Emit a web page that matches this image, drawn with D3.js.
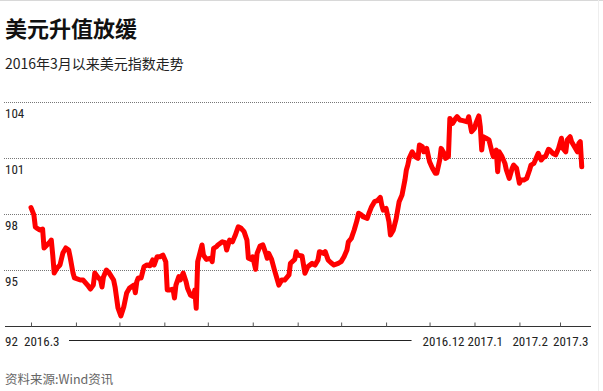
<!DOCTYPE html>
<html><head><meta charset="utf-8">
<script src="https://cdn.jsdelivr.net/npm/d3@7"></script>
<style>
html,body{margin:0;padding:0;background:#fff;}
svg{display:block;}
</style></head>
<body>
<svg id="chart" width="603" height="391"></svg>
<script>
const title = "美元升值放缓";
const subtitle = "2016年3月以来美元指数走势";
const source = "资料来源:Wind资讯";

const dates = [
"2016-03-01","2016-03-03","2016-03-04","2016-03-05","2016-03-07","2016-03-09","2016-03-10","2016-03-12","2016-03-14","2016-03-15",
"2016-03-16","2016-03-17","2016-03-19","2016-03-21","2016-03-23","2016-03-25","2016-03-27","2016-03-28","2016-03-30","2016-03-31",
"2016-04-04","2016-04-06","2016-04-09","2016-04-11","2016-04-13","2016-04-14","2016-04-16","2016-04-18","2016-04-19","2016-04-20",
"2016-04-22","2016-04-24","2016-04-27","2016-04-28","2016-04-30","2016-05-02","2016-05-04","2016-05-06","2016-05-08","2016-05-11",
"2016-05-12","2016-05-13","2016-05-14","2016-05-16","2016-05-18","2016-05-20","2016-05-22","2016-05-24","2016-05-25","2016-05-27",
"2016-05-29","2016-05-31","2016-06-02","2016-06-03","2016-06-05","2016-06-07","2016-06-08","2016-06-09","2016-06-11","2016-06-12",
"2016-06-14","2016-06-16","2016-06-17","2016-06-19","2016-06-21","2016-06-22","2016-06-23","2016-06-24","2016-06-27","2016-06-28",
"2016-06-30","2016-07-03","2016-07-04","2016-07-05","2016-07-07","2016-07-08","2016-07-11","2016-07-13","2016-07-14","2016-07-16",
"2016-07-18","2016-07-19","2016-07-20","2016-07-22","2016-07-24","2016-07-26","2016-07-28","2016-07-29","2016-07-31","2016-08-01",
"2016-08-03","2016-08-04","2016-08-06","2016-08-08","2016-08-10","2016-08-11","2016-08-12","2016-08-14","2016-08-16","2016-08-18",
"2016-08-19","2016-08-21","2016-08-23","2016-08-26","2016-08-27","2016-08-30","2016-08-31","2016-09-01","2016-09-04","2016-09-06",
"2016-09-08","2016-09-11","2016-09-13","2016-09-15","2016-09-16","2016-09-19","2016-09-20","2016-09-22","2016-09-24","2016-09-26",
"2016-09-29","2016-10-01","2016-10-03","2016-10-05","2016-10-06","2016-10-08","2016-10-10","2016-10-12","2016-10-13","2016-10-15",
"2016-10-16","2016-10-19","2016-10-20","2016-10-22","2016-10-24","2016-10-26","2016-10-28","2016-10-29","2016-10-30","2016-11-01",
"2016-11-03","2016-11-04","2016-11-06","2016-11-08","2016-11-10","2016-11-12","2016-11-14","2016-11-15","2016-11-16","2016-11-17",
"2016-11-19","2016-11-21","2016-11-23","2016-11-24","2016-11-26","2016-11-27","2016-11-29","2016-12-01","2016-12-03","2016-12-05",
"2016-12-06","2016-12-08","2016-12-09","2016-12-11","2016-12-12","2016-12-14","2016-12-15","2016-12-17","2016-12-19","2016-12-20",
"2016-12-22","2016-12-24","2016-12-27","2016-12-28","2016-12-30","2017-01-01","2017-01-02","2017-01-04","2017-01-05","2017-01-06",
"2017-01-07","2017-01-09","2017-01-11","2017-01-13","2017-01-14","2017-01-16","2017-01-17","2017-01-18","2017-01-20","2017-01-22",
"2017-01-23","2017-01-25","2017-01-27","2017-01-28","2017-01-30","2017-02-01","2017-02-02","2017-02-04","2017-02-06","2017-02-08",
"2017-02-09","2017-02-11","2017-02-12","2017-02-14","2017-02-16","2017-02-18","2017-02-19","2017-02-21","2017-02-22","2017-02-24",
"2017-02-26","2017-02-27","2017-02-28","2017-03-02","2017-03-03","2017-03-05","2017-03-06","2017-03-08","2017-03-09","2017-03-11",
"2017-03-13","2017-03-14","2017-03-15","2017-03-16"
];

const values = [
98.35,97.96,97.32,97.26,97.16,97.21,96.20,96.36,96.52,96.62,
95.82,94.86,95.13,95.29,95.93,96.20,96.09,95.72,94.86,94.60,
94.49,94.49,94.22,94.01,94.22,94.86,94.65,94.49,94.12,94.65,
95.02,94.86,94.49,94.12,93.00,92.57,93.05,93.80,94.06,94.22,
93.81,94.40,94.60,94.60,95.20,95.29,95.25,95.56,95.29,95.73,
95.73,95.82,95.47,93.96,93.96,94.01,93.53,94.22,94.67,94.49,
94.86,94.40,94.05,93.69,93.60,93.96,92.98,95.47,96.36,95.82,
95.59,95.65,95.47,96.18,96.27,96.36,96.53,96.48,96.09,96.62,
96.53,96.71,96.89,97.33,97.25,97.07,96.62,95.65,95.59,95.73,
95.06,95.91,96.30,96.36,95.91,95.65,95.91,95.59,95.02,94.49,
94.22,94.49,94.49,94.76,95.38,95.59,96.00,95.82,95.77,94.85,
95.20,95.38,95.29,95.56,96.00,95.91,96.00,95.56,95.41,95.29,
95.38,95.47,95.73,96.09,96.53,96.71,97.16,97.69,98.05,97.96,
97.87,97.78,98.01,98.40,98.67,98.72,98.90,98.49,98.22,98.31,
97.60,96.89,97.16,97.78,98.67,99.02,99.82,100.36,100.62,101.00,
101.33,101.07,100.98,101.69,101.60,101.33,101.51,100.80,100.45,100.18,
100.18,100.89,101.51,101.25,100.98,101.07,103.11,102.85,103.11,103.20,
103.02,102.99,102.93,103.20,102.40,102.58,102.85,103.24,102.67,101.42,
102.13,102.05,101.96,101.33,101.07,101.42,100.27,101.33,101.07,100.71,
100.36,99.91,100.45,100.62,100.45,99.65,99.82,99.82,99.91,100.36,
100.62,100.71,100.89,101.25,100.89,101.07,101.07,101.46,101.42,101.25,
101.16,101.33,101.51,102.05,101.51,101.33,101.96,102.13,101.87,101.60,
101.33,101.78,101.87,100.53
];

const yTicks = [92, 95, 98, 101, 104];
const xLabelDates = ["2016-03-01", "2016-12-01", "2017-01-01", "2017-02-01", "2017-03-01"];
const xLabels = ["2016.3", "2016.12", "2017.1", "2017.2", "2017.3"];

const parse = d3.timeParse("%Y-%m-%d");
const data = dates.map((d, i) => ({ date: parse(d), value: values[i] }));

const svg = d3.select("#chart");
const W = 603, H = 391;
svg.append("rect").attr("width", W).attr("height", H).attr("fill", "#fff");

const x = d3.scaleTime()
  .domain([parse("2016-03-01"), parse("2017-03-01")])
  .range([31, 560]);
const y = d3.scaleLinear().domain([92, 104]).range([326.7, 101.7]);

const numFont = "'Liberation Sans Narrow','Roboto Condensed','Noto Sans CJK SC',sans-serif";
const cjkFont = "'Noto Sans CJK SC','Noto Sans',sans-serif";

// top rule
svg.append("line").attr("x1", 0).attr("x2", W).attr("y1", 0.5).attr("y2", 0.5)
  .attr("stroke", "#d8d8d8").attr("stroke-width", 1);

// Title & subtitle
svg.append("text").attr("x", 5).attr("y", 37).text(title)
  .attr("font-family", cjkFont).attr("font-weight", "bold").attr("font-size", 22).attr("fill", "#111");
svg.append("text").attr("x", 5).attr("y", 69).text(subtitle)
  .attr("font-family", cjkFont).attr("font-size", 14).attr("fill", "#222");

// gridlines
const grid = svg.append("g");
grid.selectAll("line").data(yTicks.filter(t => t !== 92)).join("line")
  .attr("x1", 4).attr("x2", 591)
  .attr("y1", d => Math.round(y(d)) + 0.5).attr("y2", d => Math.round(y(d)) + 0.5)
  .attr("stroke", "#777").attr("stroke-width", 1).attr("stroke-dasharray", "1,1");

// y labels (below gridlines)
svg.append("g").selectAll("text").data(yTicks).join("text")
  .attr("x", 5).attr("y", d => d === 92 ? 346 : y(d) + 16)
  .text(d => d)
  .attr("font-family", numFont).attr("font-size", 13).attr("fill", "#222");

// x axis
const months = d3.timeMonth.range(parse("2016-03-01"), d3.timeDay.offset(parse("2017-03-01"), 1));
const axis = d3.axisBottom(x).tickValues(months).tickSize(-4).tickFormat("");
const ax = svg.append("g").attr("transform", "translate(0,326.5)").call(axis);
ax.select(".domain").attr("d", "M5,0H591").attr("stroke", "#333").attr("stroke-width", 1.2);
ax.selectAll(".tick line").attr("stroke", "#555");

// x labels
svg.append("g").selectAll("text").data(xLabels).join("text")
  .attr("x", (d, i) => x(parse(xLabelDates[i])) - 7)
  .attr("y", 346)
  .text(d => d)
  .attr("font-family", numFont).attr("font-size", 13).attr("fill", "#222");

// connector line between 2016.3 and 2016.12
svg.append("line")
  .attr("x1", x(parse("2016-03-01")) + 38).attr("x2", x(parse("2016-12-01")) - 18)
  .attr("y1", 340.5).attr("y2", 340.5).attr("stroke", "#222").attr("stroke-width", 1);

// line
const line = d3.line().x(d => x(d.date)).y(d => y(d.value));
svg.append("path").datum(data).attr("d", line)
  .attr("fill", "none").attr("stroke", "#ff0000").attr("stroke-width", 5)
  .attr("stroke-linejoin", "round").attr("stroke-linecap", "round");

// source
svg.append("text").attr("x", 5).attr("y", 384).text(source)
  .attr("font-family", cjkFont).attr("font-size", 12.5).attr("fill", "#666");

// right border
svg.append("line").attr("x1", 598.5).attr("x2", 598.5).attr("y1", 0).attr("y2", H)
  .attr("stroke", "#eeeeee").attr("stroke-width", 1);
</script>
</body></html>
